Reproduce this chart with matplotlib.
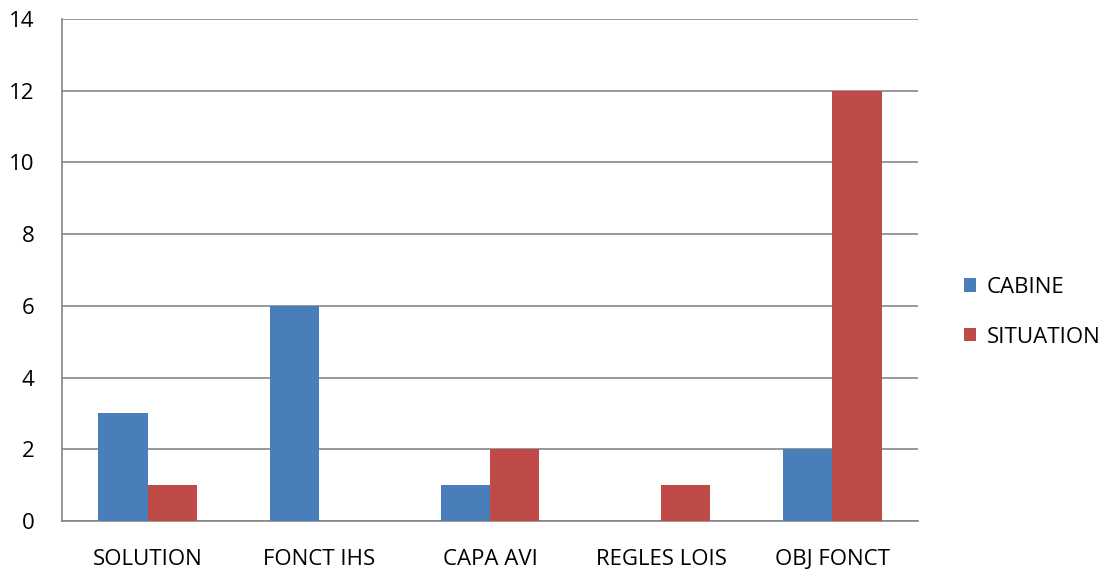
import matplotlib.pyplot as plt
import numpy as np

categories = ["SOLUTION", "FONCT IHS", "CAPA AVI", "REGLES LOIS", "OBJ FONCT"]
cabine = [3, 6, 1, 0, 2]
situation = [1, 0, 2, 1, 12]

plt.rcParams['font.family'] = ['Open Sans', 'DejaVu Sans']

fig = plt.figure(figsize=(11.02, 5.69), dpi=100)
ax = fig.add_axes([62 / 1102, 48 / 569, 856 / 1102, 502 / 569])

x = np.arange(len(categories))
w = 0.287
ax.bar(x - w / 2, cabine, w, color='#4A7EBB', label='CABINE', zorder=3)
ax.bar(x + w / 2, situation, w, color='#BE4B48', label='SITUATION', zorder=3)

ax.set_xlim(-0.5, len(categories) - 0.5)
ax.set_ylim(0, 14)
ax.set_yticks(range(0, 15, 2))
ax.set_xticks(x)
ax.set_xticklabels(categories)
ax.tick_params(length=0, labelsize=16, colors='#000000')
ax.tick_params(axis='x', pad=20)
ax.tick_params(axis='y', pad=20)
ax.grid(axis='y', color='#868686', linewidth=1.2, zorder=0)
for s in ['top', 'right']:
    ax.spines[s].set_visible(False)
for s in ['left', 'bottom']:
    ax.spines[s].set_color('#868686')
    ax.spines[s].set_linewidth(1.2)

ax.legend(loc='center left', bbox_to_anchor=(1.03, 0.416), frameon=False,
          fontsize=16, handlelength=0.55, handleheight=0.55, handletextpad=0.5,
          labelspacing=1.3)

fig.savefig('out.png', dpi=100)
